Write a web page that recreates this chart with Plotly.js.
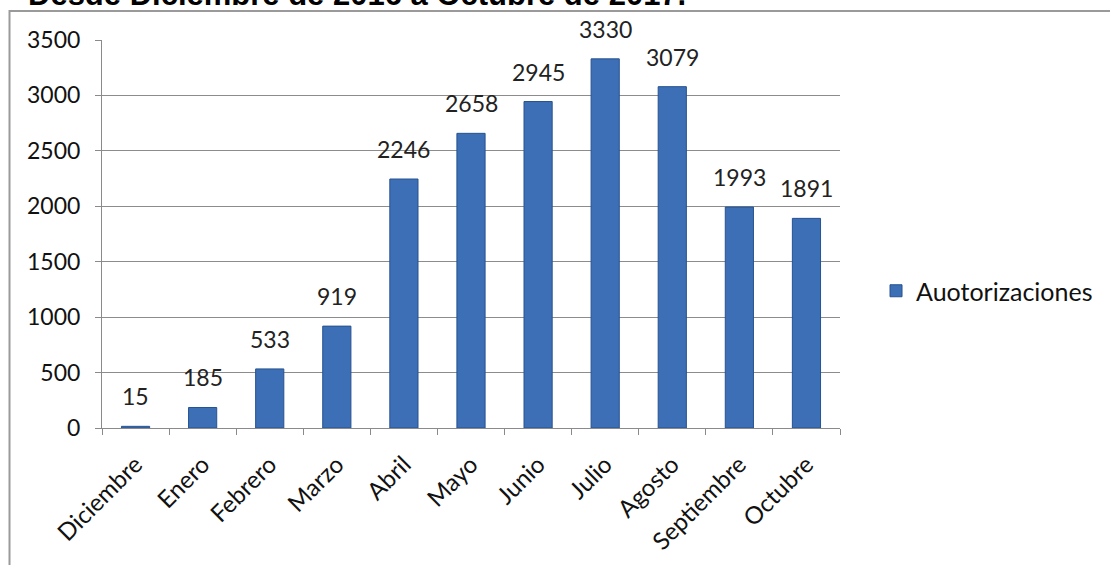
<!DOCTYPE html>
<html>
<head>
<meta charset="utf-8">
<script src="https://cdn.plot.ly/plotly-3.0.1.min.js"></script>
<style>html,body{margin:0;padding:0;background:#fff;}#chart{width:1110px;height:565px;}</style>
</head>
<body>
<div id="chart"></div>
<script>
const categories = ["Diciembre","Enero","Febrero","Marzo","Abril","Mayo","Junio","Julio","Agosto","Septiembre","Octubre"];
const values = [15,185,533,919,2246,2658,2945,3330,3079,1993,1891];
const seriesName = "Auotorizaciones";
const yTicks = [0,500,1000,1500,2000,2500,3000,3500];
const titleText = "Desde Diciembre de 2016 a Octubre de 2017.";

const L = 102, R = 860, T = 40, B = 428, W = 1110, H = 565;
const px = x => (x - L) / (R - L);
const py = y => (B - y) / (B - T);
const font = "Lato, 'Open Sans', sans-serif";

const trace = {
  type: "bar",
  x: categories,
  y: values,
  name: seriesName,
  marker: {color: "#3c6fb6", line: {color: "#27528f", width: 1}},
  showlegend: true
};

const labelAnnotations = categories.map((c, i) => ({
  x: c, y: values[i], xref: "x", yref: "y", text: String(values[i]),
  showarrow: false, yanchor: "bottom", yshift: 14,
  font: {family: font, size: 23, color: "#222"}
}));

const layout = {
  width: W, height: H,
  margin: {l: L, r: W - R, t: T, b: H - B},
  paper_bgcolor: "#fff", plot_bgcolor: "#fff",
  bargap: 0.58,
  showlegend: true,
  legend: {x: px(897), y: py(291), xanchor: "left", yanchor: "middle",
           font: {family: font, size: 25, color: "#111"}},
  xaxis: {type: "category", showgrid: false, showline: true, linecolor: "#8a8a8a", linewidth: 1,
          ticks: "outside", tickson: "boundaries", ticklen: 6, tickcolor: "#8a8a8a",
          tickangle: -45, tickfont: {family: font, size: 24, color: "#111"}, automargin: false,
          ticklabelstandoff: 12},
  yaxis: {range: [0, 3500], tickvals: yTicks, showgrid: true, gridcolor: "#8c8c8c", gridwidth: 1,
          showline: true, linecolor: "#8a8a8a", ticks: "outside", ticklen: 6, tickcolor: "#8a8a8a",
          zeroline: false, tickfont: {family: font, size: 23, color: "#111"}, automargin: false, ticklabelstandoff: 10},
  shapes: [{type: "rect", xref: "paper", yref: "paper", x0: px(7), x1: px(1300), y0: py(700), y1: py(11),
            line: {color: "#9a9a9a", width: 2}, fillcolor: "rgba(0,0,0,0)", layer: "below"}],
  annotations: [{text: "<b>" + titleText + "</b>", xref: "paper", yref: "paper", x: px(24), y: py(-5),
                 xanchor: "left", yanchor: "middle", showarrow: false,
                 font: {family: "Liberation Sans, Arial, sans-serif", size: 31, color: "#000"}}]
    .concat(labelAnnotations)
};

Plotly.newPlot("chart", [trace], layout, {staticPlot: true, displayModeBar: false});
</script>
</body>
</html>
